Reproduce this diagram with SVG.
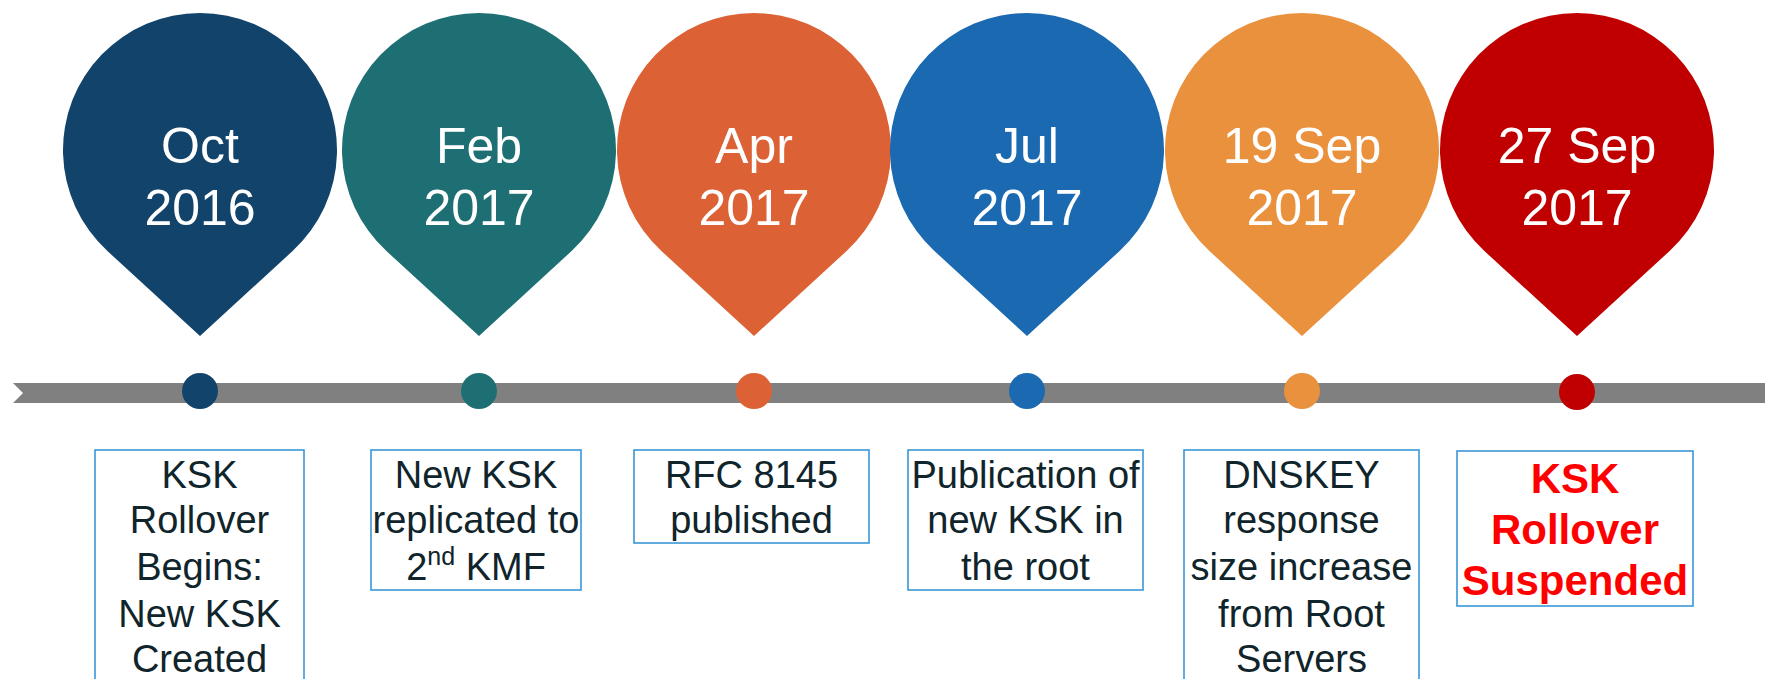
<svg xmlns="http://www.w3.org/2000/svg" width="1765" height="679" viewBox="0 0 1765 679">
<style>
.pt{font-family:"Liberation Sans",Arial,sans-serif;font-size:50px;fill:#ffffff;text-anchor:middle}
.bx{fill:#ffffff;stroke:#3a96d6;stroke-width:1.6}
.bt{font-family:"Liberation Sans",Arial,sans-serif;font-size:38px;fill:#10242b;text-anchor:middle}
.rt{font-family:"Liberation Sans",Arial,sans-serif;font-size:42px;font-weight:bold;fill:#ff0000;text-anchor:middle}
</style>
<defs>
<path id="pin" d="M0,336 L-92.6,251 A137,137 0 1 1 92.6,251 Z"/>
</defs>
<rect width="1765" height="679" fill="#ffffff"/>
<g id="connectors">
<polygon points="13,383 1765,383 1765,403 13,403 23,393" fill="#808080"/>
</g>
<g id="n1">
<use href="#pin" x="200" fill="#12436b"/>
<circle cx="200" cy="391" r="18" fill="#12436b"/>
<text class="pt" x="200" y="163">Oct</text>
<text class="pt" x="200" y="225">2016</text>
<rect class="bx" x="95" y="450" width="209" height="250"/>
<text class="bt" x="199.5"><tspan x="199.5" y="488">KSK</tspan><tspan x="199.5" y="533">Rollover</tspan><tspan x="199.5" y="580">Begins:</tspan><tspan x="199.5" y="627">New KSK</tspan><tspan x="199.5" y="672">Created</tspan></text>
</g>
<g id="n2">
<use href="#pin" x="479" fill="#1d6f73"/>
<circle cx="479" cy="391" r="18" fill="#1d6f73"/>
<text class="pt" x="479" y="163">Feb</text>
<text class="pt" x="479" y="225">2017</text>
<rect class="bx" x="371" y="450" width="210" height="140"/>
<text class="bt"><tspan x="476" y="488">New KSK</tspan><tspan x="476" y="533">replicated to</tspan></text>
<text class="bt" x="476" y="580">2<tspan font-size="25" dy="-15">nd</tspan><tspan dy="15"> KMF</tspan></text>
</g>
<g id="n3">
<use href="#pin" x="754" fill="#dc6236"/>
<circle cx="754" cy="391" r="18" fill="#dc6236"/>
<text class="pt" x="754" y="163">Apr</text>
<text class="pt" x="754" y="225">2017</text>
<rect class="bx" x="634" y="450" width="235" height="93"/>
<text class="bt"><tspan x="751.5" y="488">RFC 8145</tspan><tspan x="751.5" y="533">published</tspan></text>
</g>
<g id="n4">
<use href="#pin" x="1027" fill="#1b69b0"/>
<circle cx="1027" cy="391" r="18" fill="#1b69b0"/>
<text class="pt" x="1027" y="163">Jul</text>
<text class="pt" x="1027" y="225">2017</text>
<rect class="bx" x="908" y="450" width="235" height="140"/>
<text class="bt"><tspan x="1025.5" y="488">Publication of</tspan><tspan x="1025.5" y="533">new KSK in</tspan><tspan x="1025.5" y="580">the root</tspan></text>
</g>
<g id="n5">
<use href="#pin" x="1302" fill="#ea913d"/>
<circle cx="1302" cy="391" r="18" fill="#ea913d"/>
<text class="pt" x="1302" y="163">19 Sep</text>
<text class="pt" x="1302" y="225">2017</text>
<rect class="bx" x="1184" y="450" width="235" height="250"/>
<text class="bt"><tspan x="1301.5" y="488">DNSKEY</tspan><tspan x="1301.5" y="533">response</tspan><tspan x="1301.5" y="580">size increase</tspan><tspan x="1301.5" y="627">from Root</tspan><tspan x="1301.5" y="672">Servers</tspan></text>
</g>
<g id="n6">
<use href="#pin" x="1577" fill="#c00000"/>
<circle cx="1577" cy="392" r="18" fill="#c00000"/>
<text class="pt" x="1577" y="163">27 Sep</text>
<text class="pt" x="1577" y="225">2017</text>
<rect class="bx" x="1457" y="451" width="236" height="155"/>
<text class="rt"><tspan x="1575" y="493">KSK</tspan><tspan x="1575" y="544">Rollover</tspan><tspan x="1575" y="595">Suspended</tspan></text>
</g>
</svg>
